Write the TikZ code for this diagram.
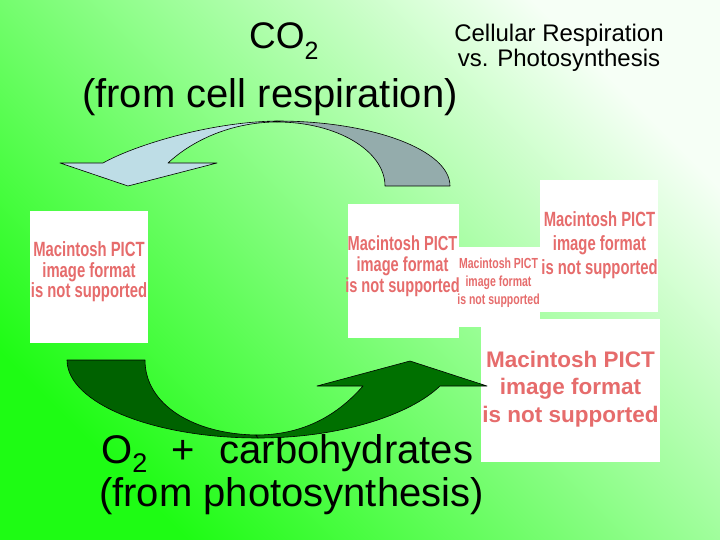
\documentclass[tikz,border=0pt]{standalone}
\usepackage{fontspec}
\usepackage{xcolor}
\setmainfont{Liberation Sans}
\newfontfamily\pictfont[FakeStretch=0.72]{Liberation Sans}

\definecolor{bggreen}{RGB}{30,252,20}
\definecolor{bgpale}{RGB}{246,255,246}
\definecolor{arrowblue}{RGB}{190,221,230}
\definecolor{arrowgrey}{RGB}{148,172,172}
\definecolor{arrowdark}{RGB}{0,98,0}
\definecolor{arrowgreen}{RGB}{0,112,0}
\definecolor{pictred}{RGB}{230,108,108}

\tikzset{
	pictbox/.style={fill=white, inner sep=0pt},
	picttext/.style={text=pictred, align=center, inner sep=0pt},
	slidetext/.style={inner sep=0pt, anchor=base west},
	arrowline/.style={draw=black, line width=0.6pt, line join=round},
}

\newcommand{\pictmsg}{Macintosh PICT\\image format\\is not supported}
\newcommand{\pictsize}[2]{\pictfont\bfseries\fontsize{#1}{#2}\selectfont}

\begin{document}
\begin{tikzpicture}[x=1pt, y=-1pt]
	% Background
	\shade[bottom color=bggreen, top color=bgpale, shading angle=-45] (0,0) rectangle (720,540);
	\useasboundingbox (0,0) rectangle (720,540);
	
	% Titles
	\node (co2) at (249,49) [slidetext, font=\fontsize{37}{44}\selectfont] {CO\raisebox{-11pt}{\fontsize{25}{25}\selectfont 2}};
	\node (fromresp) at (82,108) [slidetext, font=\fontsize{40}{48}\selectfont] {(from cell respiration)};
	\node (heading) at (559,48) [inner sep=0pt, align=center, font=\fontsize{24}{25}\selectfont] {Cellular Respiration\\vs. Photosynthesis};
	\node (o2line) at (101,463) [slidetext, font=\fontsize{40}{48}\selectfont] {O\raisebox{-9pt}{\fontsize{27}{27}\selectfont 2}\hspace{24pt}+\hspace{25pt}carbohydrates};
	\node (fromphoto) at (99,506) [slidetext, font=\fontsize{40}{48}\selectfont] {(from photosynthesis)};
	
	% Missing pictures
	\node (pict1) at (89,277) [pictbox, minimum width=118pt, minimum height=132pt] {};
	\node (pict2) at (403.5,271) [pictbox, minimum width=111pt, minimum height=134pt] {};
	\node (pict3) at (498,287) [pictbox, minimum width=84pt, minimum height=80pt] {};
	\node (pict4) at (599,246) [pictbox, minimum width=118pt, minimum height=132pt] {};
	\node (pict5) at (570.5,390.5) [pictbox, minimum width=179pt, minimum height=143pt] {};
	\node (pict1txt) at (89,272) [picttext, font=\pictsize{20.6}{20.5}] {\pictmsg};
	\node (pict2txt) at (402.5,266.5) [picttext, font=\pictsize{20.3}{21}] {\pictmsg};
	\node (pict3txt) at (498.5,282.5) [picttext, font=\pictsize{14.6}{18}] {\pictmsg};
	\node (pict4txt) at (599.5,245.5) [picttext, font=\pictsize{20.6}{24}] {\pictmsg};
	\node (pict5txt) at (570.5,389) [picttext, font=\bfseries\fontsize{22.5}{27.5}\selectfont] {\pictmsg};
	
	% Upper arrow, back part then head part
	\filldraw[arrowline, fill=arrowgrey] (277,121) .. controls (372,121) and (450,150) .. (450,186)
		-- (385,186) .. controls (385,151) and (337,122) .. (277,122) -- cycle;
	\filldraw[arrowline, fill=arrowblue] (277,121) .. controls (210,122) and (135,145) .. (103,163)
		-- (60,163) -- (128,186) -- (217,163) -- (168,163)
		.. controls (195,138) and (235,122) .. (277,122) -- cycle;
	
	% Lower arrow, back part then head part
	\filldraw[arrowline, fill=arrowdark] (67,360) .. controls (67,403) and (153,438) .. (258,438)
		-- (256,435) .. controls (194,434) and (145,405) .. (145,360) -- cycle;
	\filldraw[arrowline, fill=arrowgreen] (258,438) .. controls (340,438) and (410,415) .. (440,386)
		-- (487,386) -- (410,361) -- (317,386) -- (363,386)
		.. controls (335,418) and (300,435) .. (256,435) -- cycle;
\end{tikzpicture}
\end{document}
